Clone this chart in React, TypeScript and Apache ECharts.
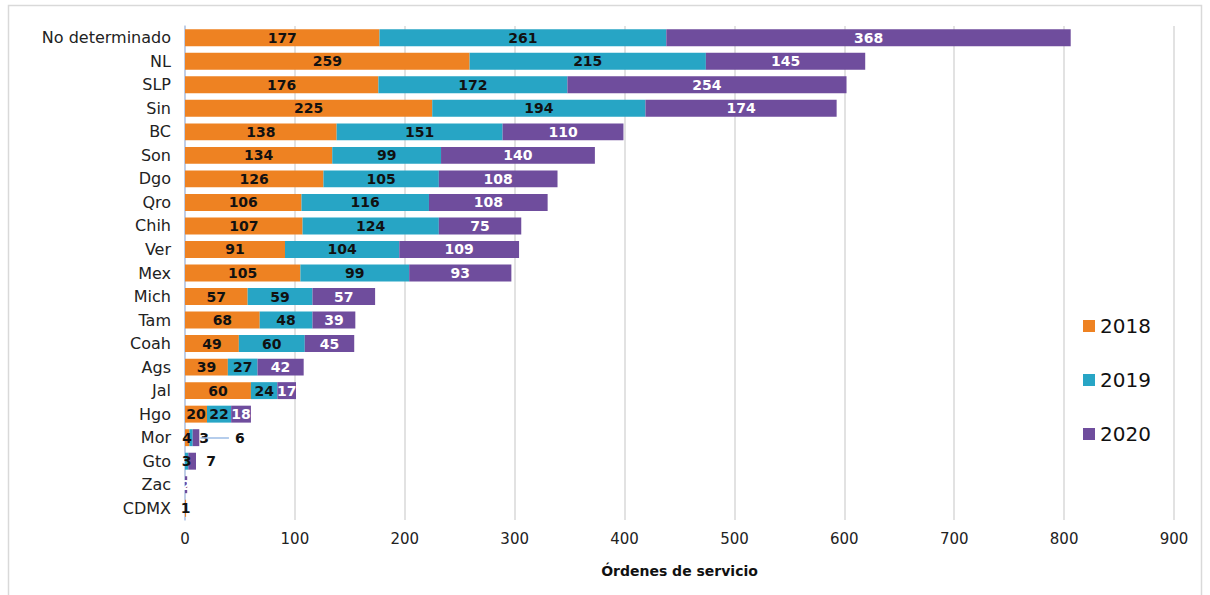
import React, { useEffect, useRef } from "react";
import * as echarts from "echarts";

const categories = ["No determinado","NL","SLP","Sin","BC","Son","Dgo","Qro","Chih","Ver","Mex","Mich","Tam","Coah","Ags","Jal","Hgo","Mor","Gto","Zac","CDMX"];
const y2018 = [177,259,176,225,138,134,126,106,107,91,105,57,68,49,39,60,20,4,0,0,1];
const y2019 = [261,215,172,194,151,99,105,116,124,104,99,59,48,60,27,24,22,3,3,0,0];
const y2020 = [368,145,254,174,110,140,108,108,75,109,93,57,39,45,42,17,18,6,7,2,0];
const xTicks = { min: 0, max: 900, interval: 100 };

const FONT = "DejaVu Sans";

export default function App() {
  const ref = useRef<HTMLDivElement>(null);
  useEffect(() => {
    document.body.style.margin = "0";
    const chart = echarts.init(ref.current!, null, { renderer: "svg" });
    const labelBase = (color: string) => ({
      show: true,
      position: "inside" as const,
      color,
      fontFamily: FONT,
      fontWeight: "bold" as const,
      fontSize: 14,
      formatter: (p: any) => (p.value ? String(p.value) : ""),
    });
    const mkData = (arr: number[], overrides: Record<string, any>) =>
      arr.map((v, i) => {
        const o = overrides[categories[i]];
        return o ? { value: v, label: o } : v;
      });
    const option: any = {
      animation: false,
      textStyle: { fontFamily: FONT },
      graphic: [
        {
          type: "rect",
          shape: { x: 8.5, y: 5.5, width: 1193, height: 600 },
          style: { fill: "none", stroke: "#d9d9d9", lineWidth: 1.5 },
          silent: true,
        },
      ],
      grid: { left: 185, right: 36, top: 26, bottom: 75, containLabel: false },
      legend: {
        orient: "vertical",
        left: 1078,
        top: 311,
        itemWidth: 12,
        itemHeight: 12,
        itemGap: 34,
        icon: "rect",
        textStyle: { fontSize: 20, color: "#111", fontFamily: FONT },
        data: ["2018", "2019", "2020"],
      },
      xAxis: {
        type: "value",
        min: xTicks.min,
        max: xTicks.max,
        interval: xTicks.interval,
        name: "Órdenes de servicio",
        nameLocation: "middle",
        nameGap: 44,
        nameTextStyle: { fontSize: 14, fontWeight: "bold", color: "#111", fontFamily: FONT },
        axisLine: { show: false },
        axisTick: { show: false },
        axisLabel: { fontSize: 15, color: "#222", margin: 11, fontFamily: FONT },
        splitLine: { show: true, lineStyle: { color: "#d9d9d9", width: 1.5 } },
      },
      yAxis: {
        type: "category",
        data: categories,
        inverse: true,
        axisLine: { show: true, lineStyle: { color: "#b4c7e7", width: 1.5 } },
        axisTick: { show: false },
        axisLabel: { fontSize: 16, color: "#222", margin: 14, fontFamily: FONT },
      },
      series: [
        {
          name: "2018",
          type: "bar",
          stack: "t",
          barWidth: "72%",
          itemStyle: { color: "#EE8222" },
          label: labelBase("#111"),
          data: mkData(y2018, {}),
        },
        {
          name: "2019",
          type: "bar",
          stack: "t",
          itemStyle: { color: "#27A5C5" },
          label: labelBase("#111"),
          data: mkData(y2019, { Mor: { offset: [13, 0] } }),
        },
        {
          name: "2020",
          type: "bar",
          stack: "t",
          itemStyle: { color: "#6F4D9D" },
          label: labelBase("#fff"),
          data: mkData(y2020, {
            Mor: { offset: [44, 0], color: "#111" },
            Gto: { offset: [19, 0], color: "#111" },
          }),
          markLine: {
            silent: true,
            symbol: "none",
            label: { show: false },
            lineStyle: { color: "#9dbde6", width: 1.5, type: "solid" },
            data: [[{ coord: [14, "Mor"] }, { coord: [40, "Mor"] }]],
          },
        },
      ],
    };
    chart.setOption(option);
    return () => chart.dispose();
  }, []);
  return <div ref={ref} style={{ width: 1210, height: 595 }} />;
}
